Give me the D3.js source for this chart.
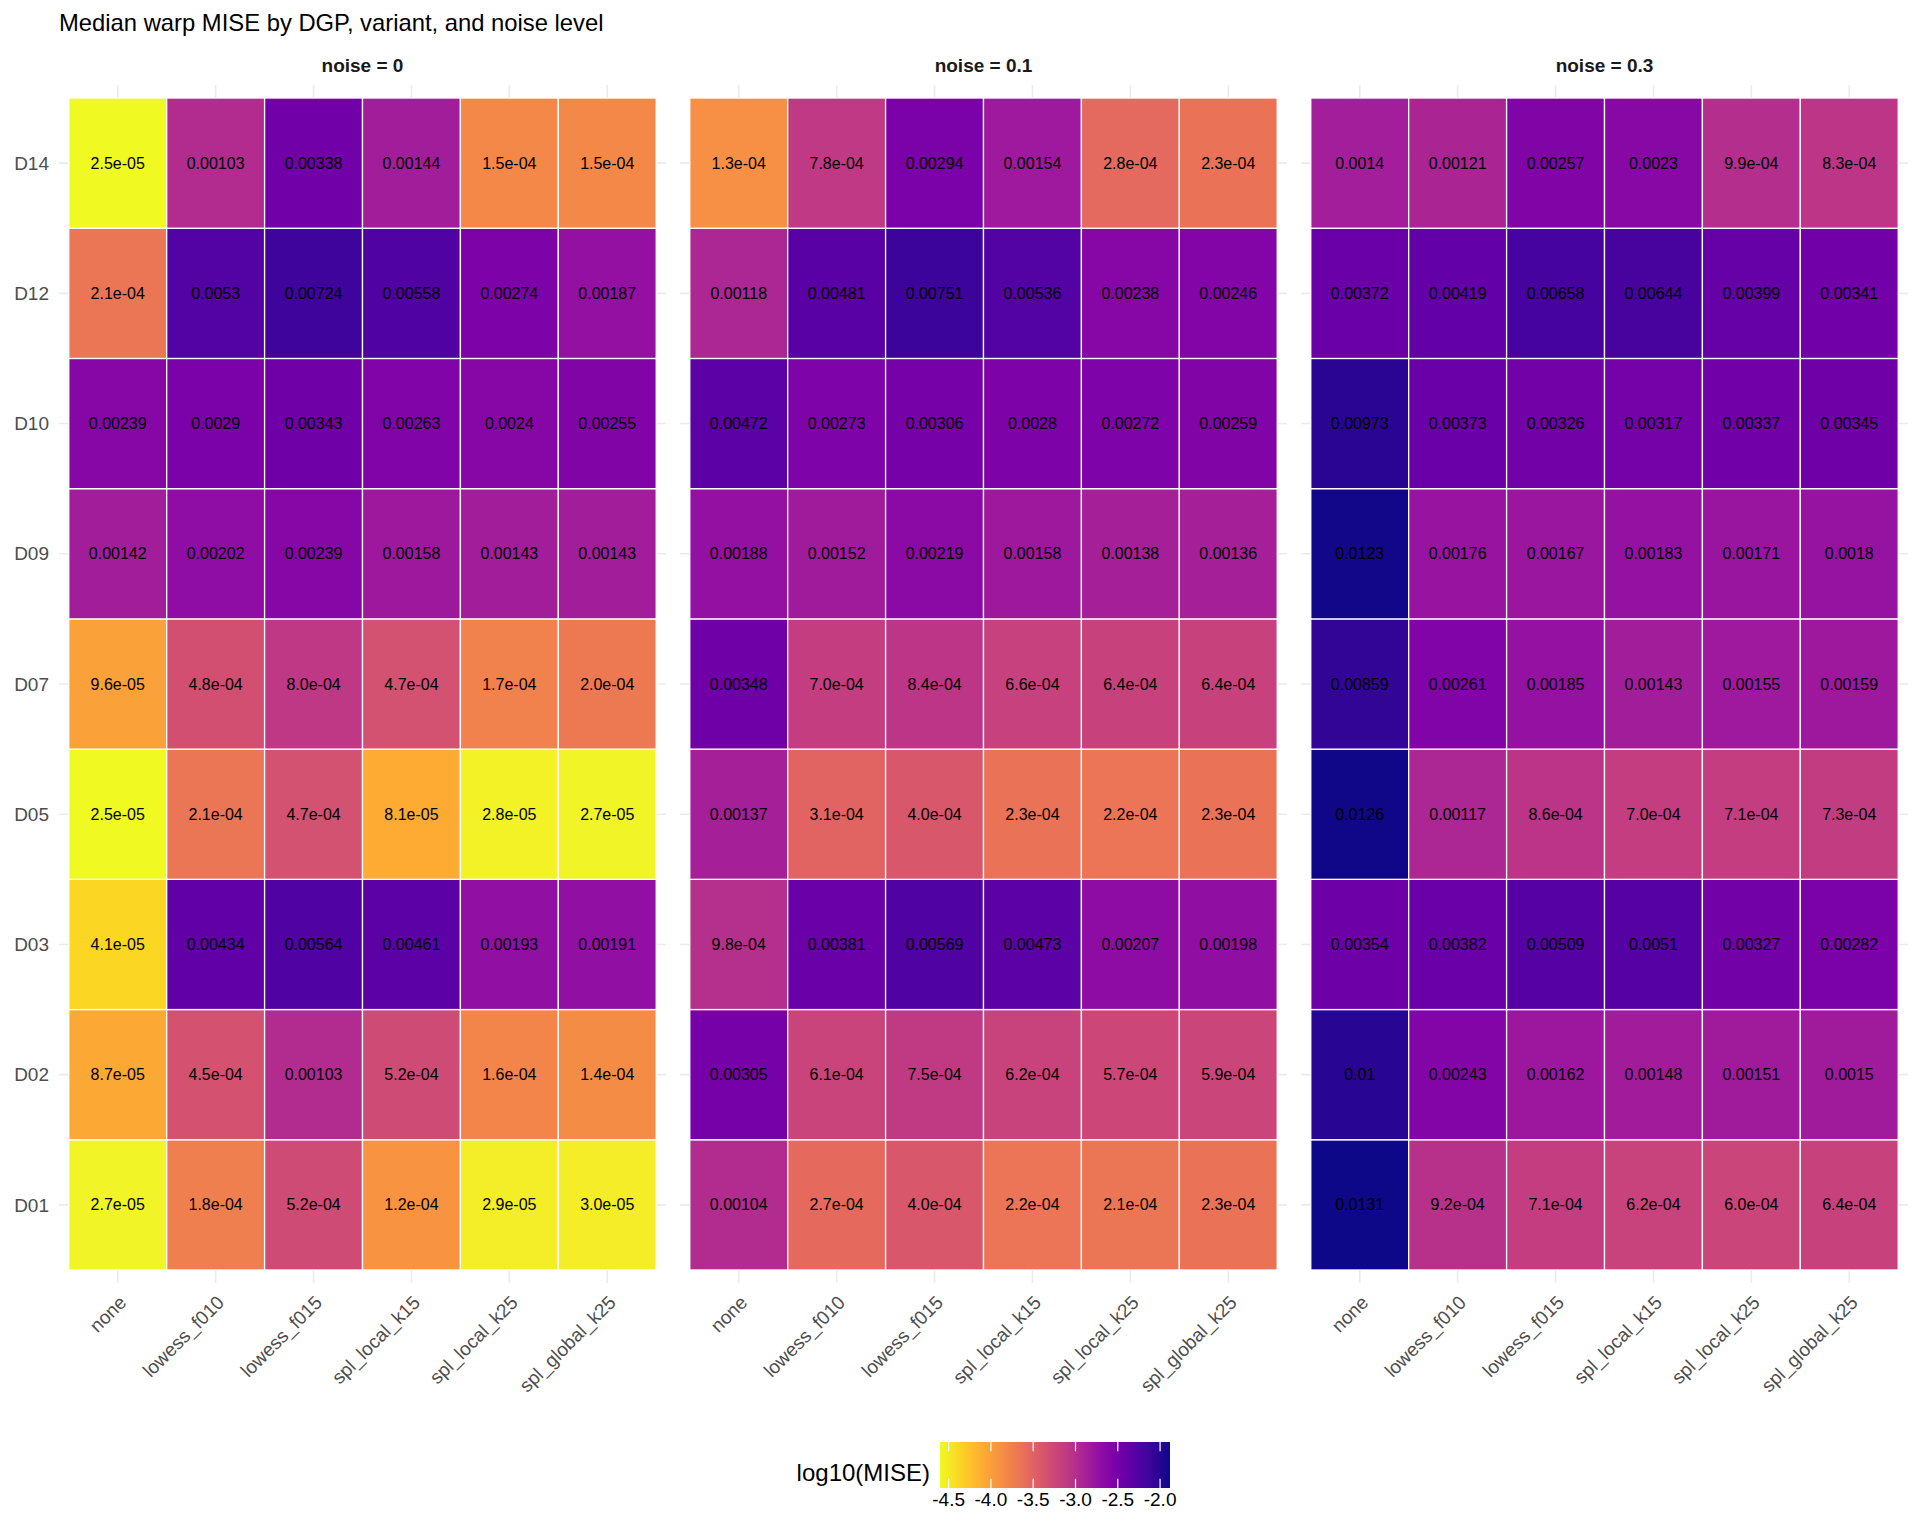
<!DOCTYPE html>
<html>
<head>
<meta charset="utf-8">
<title>Median warp MISE</title>
<script src="https://cdn.jsdelivr.net/npm/d3@7"></script>
<style>
body { margin: 0; background: #fff; }
text { font-family: "Liberation Sans", Arial, Helvetica, sans-serif; }
</style>
</head>
<body>
<svg id="chart" width="1920" height="1536"></svg>
<script>
var variants = ["none", "lowess_f010", "lowess_f015", "spl_local_k15", "spl_local_k25", "spl_global_k25"];
var dgps = ["D01", "D02", "D03", "D05", "D07", "D09", "D10", "D12", "D14"];
var noiseLevels = ["0", "0.1", "0.3"];

// one row per DGP (same order as dgps), one column per variant
var mise_noise0 = [
  [2.7e-05, 1.8e-04, 5.2e-04, 1.2e-04, 2.9e-05, 3.0e-05],
  [8.7e-05, 4.5e-04, 0.00103, 5.2e-04, 1.6e-04, 1.4e-04],
  [4.1e-05, 0.00434, 0.00564, 0.00461, 0.00193, 0.00191],
  [2.5e-05, 2.1e-04, 4.7e-04, 8.1e-05, 2.8e-05, 2.7e-05],
  [9.6e-05, 4.8e-04, 8.0e-04, 4.7e-04, 1.7e-04, 2.0e-04],
  [0.00142, 0.00202, 0.00239, 0.00158, 0.00143, 0.00143],
  [0.00239, 0.0029, 0.00343, 0.00263, 0.0024, 0.00255],
  [2.1e-04, 0.0053, 0.00724, 0.00558, 0.00274, 0.00187],
  [2.5e-05, 0.00103, 0.00338, 0.00144, 1.5e-04, 1.5e-04]
];
var mise_noise01 = [
  [0.00104, 2.7e-04, 4.0e-04, 2.2e-04, 2.1e-04, 2.3e-04],
  [0.00305, 6.1e-04, 7.5e-04, 6.2e-04, 5.7e-04, 5.9e-04],
  [9.8e-04, 0.00381, 0.00569, 0.00473, 0.00207, 0.00198],
  [0.00137, 3.1e-04, 4.0e-04, 2.3e-04, 2.2e-04, 2.3e-04],
  [0.00348, 7.0e-04, 8.4e-04, 6.6e-04, 6.4e-04, 6.4e-04],
  [0.00188, 0.00152, 0.00219, 0.00158, 0.00138, 0.00136],
  [0.00472, 0.00273, 0.00306, 0.0028, 0.00272, 0.00259],
  [0.00118, 0.00481, 0.00751, 0.00536, 0.00238, 0.00246],
  [1.3e-04, 7.8e-04, 0.00294, 0.00154, 2.8e-04, 2.3e-04]
];
var mise_noise03 = [
  [0.0131, 9.2e-04, 7.1e-04, 6.2e-04, 6.0e-04, 6.4e-04],
  [0.01, 0.00243, 0.00162, 0.00148, 0.00151, 0.0015],
  [0.00354, 0.00382, 0.00509, 0.0051, 0.00327, 0.00282],
  [0.0126, 0.00117, 8.6e-04, 7.0e-04, 7.1e-04, 7.3e-04],
  [0.00859, 0.00261, 0.00185, 0.00143, 0.00155, 0.00159],
  [0.0123, 0.00176, 0.00167, 0.00183, 0.00171, 0.0018],
  [0.00973, 0.00373, 0.00326, 0.00317, 0.00337, 0.00345],
  [0.00372, 0.00419, 0.00658, 0.00644, 0.00399, 0.00341],
  [0.0014, 0.00121, 0.00257, 0.0023, 9.9e-04, 8.3e-04]
];
var legendTicks = [-4.5, -4.0, -3.5, -3.0, -2.5, -2.0];

var svg = d3.select("#chart");
var tables = [mise_noise0, mise_noise01, mise_noise03];

var cells = [];
tables.forEach(function(tab, k) {
  tab.forEach(function(row, i) {
    row.forEach(function(v, j) {
      cells.push({noise: noiseLevels[k], dgp: dgps[i], variant: variants[j], value: v, lv: Math.log10(v)});
    });
  });
});

var extent = d3.extent(cells, function(d) { return d.lv; });
var color = d3.scaleSequential(function(t) { return d3.interpolatePlasma(1 - t); }).domain(extent);

var sig3 = d3.format(".3~g");
function label(v) {
  if (v < 1e-3) return v.toExponential(1).replace(/e-(\d)$/, "e-0$1");
  return sig3(v);
}

var panelTop = 85, panelBottom = 1283;
var panelW = 607, panelStep = 621, panelLeft0 = 59;
var facet = d3.scaleBand().domain(noiseLevels).range([panelLeft0, panelLeft0 + panelStep * 3]);

var y = d3.scaleBand().domain(dgps.slice().reverse())
  .range([panelTop, panelBottom]).paddingInner(0).paddingOuter(0.1);

noiseLevels.forEach(function(nl) {
  var x0 = facet(nl);
  var x = d3.scaleBand().domain(variants)
    .range([x0, x0 + panelW]).paddingInner(0).paddingOuter(0.1);
  var g = svg.append("g");

  // grid
  g.selectAll("line.vg").data(variants).enter().append("line")
    .attr("x1", function(d) { return x(d) + x.bandwidth() / 2; })
    .attr("x2", function(d) { return x(d) + x.bandwidth() / 2; })
    .attr("y1", panelTop).attr("y2", panelBottom)
    .style("stroke", "#ebebeb").style("stroke-width", 1.6);
  g.selectAll("line.hg").data(dgps).enter().append("line")
    .attr("y1", function(d) { return y(d) + y.bandwidth() / 2; })
    .attr("y2", function(d) { return y(d) + y.bandwidth() / 2; })
    .attr("x1", x0).attr("x2", x0 + panelW)
    .style("stroke", "#ebebeb").style("stroke-width", 1.6);

  var pc = cells.filter(function(d) { return d.noise === nl; });
  g.selectAll("rect").data(pc).enter().append("rect")
    .attr("x", function(d) { return x(d.variant); })
    .attr("y", function(d) { return y(d.dgp); })
    .attr("width", x.bandwidth())
    .attr("height", y.bandwidth())
    .style("fill", function(d) { return color(d.lv); })
    .style("stroke", "#fff").style("stroke-width", 1.3);

  g.selectAll("text.cell").data(pc).enter().append("text")
    .attr("x", function(d) { return x(d.variant) + x.bandwidth() / 2; })
    .attr("y", function(d) { return y(d.dgp) + y.bandwidth() / 2; })
    .attr("dy", "0.35em")
    .attr("text-anchor", "middle")
    .style("font-size", "16px").style("fill", "#000")
    .text(function(d) { return label(d.value); });

  // strip
  g.append("text")
    .attr("x", x0 + panelW / 2).attr("y", 72)
    .attr("text-anchor", "middle")
    .style("font-size", "19px").style("font-weight", "bold").style("fill", "#1a1a1a")
    .text("noise = " + nl);

  // x axis labels
  g.selectAll("text.xl").data(variants).enter().append("text")
    .attr("transform", function(d) {
      return "translate(" + (x(d) + x.bandwidth() / 2) + "," + (panelBottom + 11) + ") rotate(-45)";
    })
    .attr("text-anchor", "end")
    .attr("dy", "0.72em")
    .style("font-size", "19px").style("fill", "#4d4d4d")
    .text(function(d) { return d; });
});

// y axis labels
svg.selectAll("text.yl").data(dgps).enter().append("text")
  .attr("x", 49)
  .attr("y", function(d) { return y(d) + y.bandwidth() / 2; })
  .attr("dy", "0.35em")
  .attr("text-anchor", "end")
  .style("font-size", "19px").style("fill", "#4d4d4d")
  .text(function(d) { return d; });

// title
svg.append("text")
  .attr("x", 59).attr("y", 31)
  .style("font-size", "23.8px").style("fill", "#000")
  .text("Median warp MISE by DGP, variant, and noise level");

// legend
var lx = d3.scaleLinear().domain(extent).range([940, 1170]);
var ly0 = 1442, ly1 = 1488;
var grad = svg.append("defs").append("linearGradient").attr("id", "lg")
  .attr("x1", "0%").attr("x2", "100%").attr("y1", "0%").attr("y2", "0%");
grad.selectAll("stop").data(d3.range(0, 1.0001, 0.05)).enter().append("stop")
  .attr("offset", function(d) { return (d * 100) + "%"; })
  .attr("stop-color", function(d) { return color(extent[0] + d * (extent[1] - extent[0])); });
svg.append("rect")
  .attr("x", lx.range()[0]).attr("y", ly0)
  .attr("width", lx.range()[1] - lx.range()[0]).attr("height", ly1 - ly0)
  .style("fill", "url(#lg)");
var tickLen = (ly1 - ly0) / 5;
var lt = svg.append("g");
lt.selectAll("line.t1").data(legendTicks).enter().append("line")
  .attr("x1", lx).attr("x2", lx).attr("y1", ly0).attr("y2", ly0 + tickLen)
  .style("stroke", "#fff").style("stroke-width", 1.2);
lt.selectAll("line.t2").data(legendTicks).enter().append("line")
  .attr("x1", lx).attr("x2", lx).attr("y1", ly1 - tickLen).attr("y2", ly1)
  .style("stroke", "#fff").style("stroke-width", 1.2);
var fmt = d3.formatLocale({decimal: ".", thousands: ",", grouping: [3], currency: ["", ""], minus: "-"}).format(".1f");
lt.selectAll("text").data(legendTicks).enter().append("text")
  .attr("x", lx).attr("y", ly1 + 4).attr("dy", "0.75em")
  .attr("text-anchor", "middle")
  .style("font-size", "19px").style("fill", "#000")
  .text(fmt);
svg.append("text")
  .attr("x", 930).attr("y", (ly0 + ly1) / 2 + 8).attr("dy", "0.35em")
  .attr("text-anchor", "end")
  .style("font-size", "24px").style("fill", "#000")
  .text("log10(MISE)");
</script>
</body>
</html>
